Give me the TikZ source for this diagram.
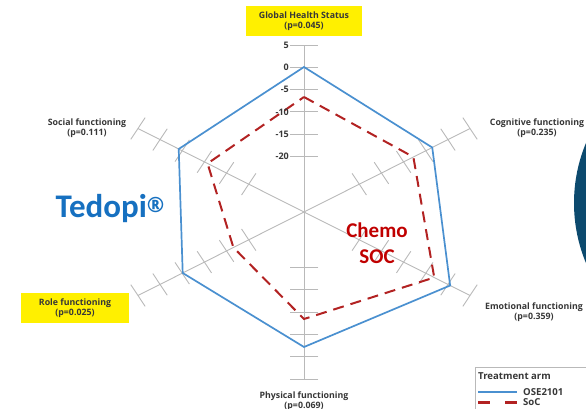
\documentclass[tikz,border=0pt]{standalone}
\usepackage{fontspec}
\setmainfont{Open Sans}
\newfontfamily\calibri{Carlito}

\definecolor{osecol}{RGB}{74,144,208}
\definecolor{soccol}{RGB}{178,34,34}
\definecolor{axiscol}{RGB}{185,185,185}
\definecolor{labelcol}{RGB}{55,55,55}
\definecolor{hilite}{RGB}{255,240,0}
\definecolor{navy}{RGB}{12,74,110}
\definecolor{tedopicol}{RGB}{22,112,192}
\definecolor{chemocol}{RGB}{192,0,0}

\tikzset{
  axislabel/.style={font=\bfseries\fontsize{8.8}{10}\selectfont, text=labelcol, align=center, inner sep=1pt},
  ticklabel/.style={font=\bfseries\fontsize{9}{9}\selectfont, text=labelcol, anchor=east, inner sep=1pt},
  legendtext/.style={font=\bfseries\fontsize{9.6}{10}\selectfont, text=labelcol, anchor=west, inner sep=0pt},
  hibox/.style={fill=hilite, minimum height=30pt, inner xsep=0pt},
  osearm/.style={osecol, line width=1.7pt, line join=miter},
  socarm/.style={soccol, line width=2pt, dash pattern=on 11pt off 7pt},
}

\begin{document}
\begin{tikzpicture}[x=1pt,y=1pt]
  \useasboundingbox (-304,-197) rectangle (282,212);

  % Navy shape at the right edge
  \fill[navy] (426,9) circle (156);

  \begin{scope}[xscale=1.148]
    % Draw spokes and ticks
    \foreach \a in {90,30,-30,-90,-150,150} {
      \draw[axiscol, line width=0.9pt] (0,0) coordinate (centre) -- (\a:167) coordinate (end\a);
      \foreach \r in {55.6,77.9,100.2,122.5,144.8,167}
        \draw[axiscol, line width=0.9pt] (\a:\r) ++(\a+90:12.5) -- ++(\a-90:25);
    }

    % SoC
    \draw[socarm] (90:115) coordinate (s1) -- (30:110) coordinate (s2) -- (-30:131) coordinate (s3)
      -- (-90:107) coordinate (s4) -- (-150:71) coordinate (s5) -- (150:97) coordinate (s6) -- cycle;
    % OSE2101
    \draw[osearm] (90:145) coordinate (o1) -- (30:129) coordinate (o2) -- (-30:147) coordinate (o3)
      -- (-90:135) coordinate (o4) -- (-150:122) coordinate (o5) -- (150:126) coordinate (o6) -- cycle;
  \end{scope}

  % Scale on the top spoke
  \foreach \v/\r in {5/167,0/144.8,-5/122.5,-10/100.2,-15/77.9,-20/55.6}
    \node[ticklabel] (tick\v) at (-14,\r) {\v};

  % Axis labels
  \node[axislabel, hibox, minimum width=116pt] (global) at (0,191) {Global Health Status\\(p=0.045)};
  \node[axislabel] (social) at (-217,84) {Social functioning\\(p=0.111)};
  \node[axislabel] (cognitive) at (233,84) {Cognitive functioning\\(p=0.235)};
  \node[axislabel] (emotional) at (230,-100) {Emotional functioning\\(p=0.359)};
  \node[axislabel] (physical) at (0,-189) {Physical functioning\\(p=0.069)};
  \node[axislabel, hibox, minimum width=108pt] (role) at (-229,-96) {Role functioning\\(p=0.025)};

  % Arm names
  \node[font=\calibri\bfseries\fontsize{33}{34}\selectfont, text=tedopicol, inner sep=0pt] (tedopi) at (-194,3)
    {Tedopi\raisebox{5.5pt}{\normalfont\bfseries\fontsize{21}{21}\selectfont ®}};
  \node[font=\calibri\bfseries\fontsize{21}{26}\selectfont, text=chemocol, align=center] (chemo) at (73,-31)
    {Chemo\\SOC};

  % Legend
  \draw[axiscol, line width=0.8pt, fill=white] (171,-155) rectangle (300,-215);
  \node[legendtext] (legtitle) at (174,-164) {Treatment arm};
  \coordinate (legA) at (174,-180);
  \coordinate (legB) at (213,-180);
  \coordinate (legC) at (174,-190);
  \coordinate (legD) at (213,-190);
  \draw[osearm, line width=2.6pt] (legA) -- (legB);
  \draw[soccol, line width=3pt, dash pattern=on 12pt off 15pt] (legC) -- (legD);
  \node[legendtext] (legose) at (219,-180) {OSE2101};
  \node[legendtext] (legsoc) at (219,-190) {SoC};
\end{tikzpicture}
\end{document}
